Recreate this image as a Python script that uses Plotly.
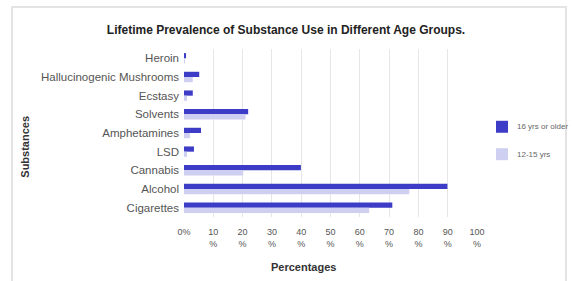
import plotly.graph_objects as go

substances = ["Heroin", "Hallucinogenic Mushrooms", "Ecstasy", "Solvents",
              "Amphetamines", "LSD", "Cannabis", "Alcohol", "Cigarettes"]
older = [0.7, 5.2, 3.0, 21.9, 5.8, 3.4, 39.9, 89.9, 71.1]
younger = [0.3, 3.0, 1.0, 21.0, 2.0, 1.0, 20.2, 76.9, 63.2]
series_names = ["16 yrs or older", "12-15 yrs"]
series_colors = ["#3c3cc6", "#cfcff2"]
tick_vals = [0, 10, 20, 30, 40, 50, 60, 70, 80, 90, 100]
tick_text = ["0%"] + [f"{v}<br>%" for v in tick_vals[1:]]

FONT = "Arial, Liberation Sans, sans-serif"
W, H = 572, 281
L, R, T, B = 184, 95, 49, 63.5
PW, PH = W - L - R, H - T - B


def px(x):
    return (x - L) / PW


def py(y):
    return (H - B - y) / PH


fig = go.Figure()
for vals, name, col in zip([older, younger], series_names, series_colors):
    fig.add_trace(go.Bar(y=substances, x=vals, orientation="h", name=name,
                         marker=dict(color=col, line=dict(width=0))))

fig.update_layout(
    width=W, height=H,
    margin=dict(l=L, r=R, t=T, b=B, autoexpand=False),
    paper_bgcolor="white", plot_bgcolor="white",
    barmode="group", bargap=0.44, bargroupgap=0,
    font=dict(family=FONT, size=9, color="#555"),
    title=dict(text="<b>Lifetime Prevalence of Substance Use in Different Age Groups.</b>",
               x=0.5, xanchor="center", y=1 - 30 / H, yanchor="middle",
               font=dict(family=FONT, size=12, color="#222"), automargin=False),
    xaxis=dict(range=[0, 100], tickvals=tick_vals, ticktext=tick_text,
               showgrid=True, gridcolor="#e6e6e6", gridwidth=1, zeroline=False,
               showline=False, ticks="", ticklabelstandoff=8, automargin=False,
               tickfont=dict(family=FONT, size=9, color="#555"), fixedrange=True),
    yaxis=dict(autorange="reversed", showgrid=False, zeroline=False, showline=False,
               ticks="", ticklabelstandoff=4, automargin=False,
               tickfont=dict(family=FONT, size=11.5, color="#555")),
    showlegend=False,
)

# legend drawn manually to match the reference's compact layout
for i, (name, col) in enumerate(zip(series_names, series_colors)):
    cy = 127 + i * 27.5
    fig.add_shape(type="rect", xref="paper", yref="paper",
                  x0=px(496), x1=px(508), y0=py(cy + 6), y1=py(cy - 6),
                  line=dict(width=0), fillcolor=col)
    fig.add_annotation(text=name, xref="paper", yref="paper", x=px(515), y=py(cy),
                       xanchor="left", yanchor="middle", showarrow=False,
                       font=dict(family=FONT, size=8, color="#666"))

fig.add_annotation(text="<b>Percentages</b>", xref="paper", yref="paper",
                   x=px(303), y=py(268), xanchor="center", yanchor="middle",
                   showarrow=False, font=dict(family=FONT, size=11, color="#333"))
fig.add_annotation(text="<b>Substances</b>", xref="paper", yref="paper",
                   x=px(25), y=py(147), xanchor="center", yanchor="middle",
                   showarrow=False, textangle=-90,
                   font=dict(family=FONT, size=11, color="#333"))

fig.add_shape(type="rect", xref="paper", yref="paper",
              x0=px(12), x1=px(566), y0=py(300), y1=py(7),
              line=dict(color="#e4e4e4", width=2), fillcolor="rgba(0,0,0,0)", layer="below")

fig.write_html("out.html", config={"displayModeBar": False},
               post_script="document.body.style.margin='0';document.body.style.overflow='hidden';")
